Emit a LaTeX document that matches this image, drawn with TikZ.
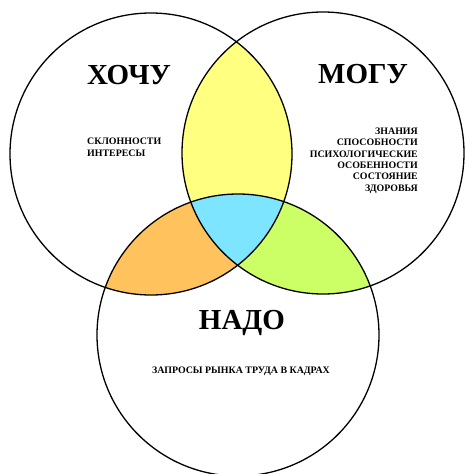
\documentclass[tikz,border=0pt]{standalone}
\usepackage{fontspec}
\setmainfont{Liberation Serif}
\usepackage{xcolor}
\usepackage{tikz}
\definecolor{wantcan}{RGB}{255,255,128}
\definecolor{wantneed}{RGB}{255,194,92}
\definecolor{canneed}{RGB}{204,255,102}
\definecolor{allthree}{RGB}{125,229,255}
\tikzset{every node/.append style={font=\bfseries},
  title/.style={font=\fontsize{29}{32}\selectfont\bfseries},
  small/.style={font=\fontsize{9.9}{11.4}\selectfont\bfseries, inner sep=0pt},
  ring/.style={line width=1.3pt}}

\begin{document}
\begin{tikzpicture}[x=1pt, y=-1pt]
    \useasboundingbox (0,0) rectangle (465,474);
    \def\rr{141}
    \coordinate (want) at (151,154);
    \coordinate (can) at (323,153);
    \coordinate (need) at (238,335);
    % pairwise overlaps
    \begin{scope}
        \clip (want) circle (\rr);
        \fill[wantcan] (can) circle (\rr);
        \fill[wantneed] (need) circle (\rr);
    \end{scope}
    \begin{scope}
        \clip (can) circle (\rr);
        \fill[canneed] (need) circle (\rr);
    \end{scope}
    % centre, all three
    \begin{scope}
        \clip (want) circle (\rr);
        \clip (can) circle (\rr);
        \fill[allthree] (need) circle (\rr);
    \end{scope}
    \draw[ring] (want) circle (\rr);
    \draw[ring] (can) circle (\rr);
    \draw[ring] (need) circle (\rr);
    % labels
    \node[title] (wanttitle) at (129,75) {ХОЧУ};
    \node[title] (cantitle) at (363,74) {МОГУ};
    \node[title] (needtitle) at (242,323) {НАДО};
    \node[small, align=left, anchor=north west] (wanttext) at (87,138) {СКЛОННОСТИ\\ИНТЕРЕСЫ};
    \node[small, align=right, anchor=north east] (cantext) at (418,127.5) {ЗНАНИЯ\\СПОСОБНОСТИ\\ПСИХОЛОГИЧЕСКИЕ\\ОСОБЕННОСТИ\\СОСТОЯНИЕ\\ЗДОРОВЬЯ};
    \node[small] (needtext) at (241,371.5) {ЗАПРОСЫ РЫНКА ТРУДА В КАДРАХ};
\end{tikzpicture}
\end{document}
